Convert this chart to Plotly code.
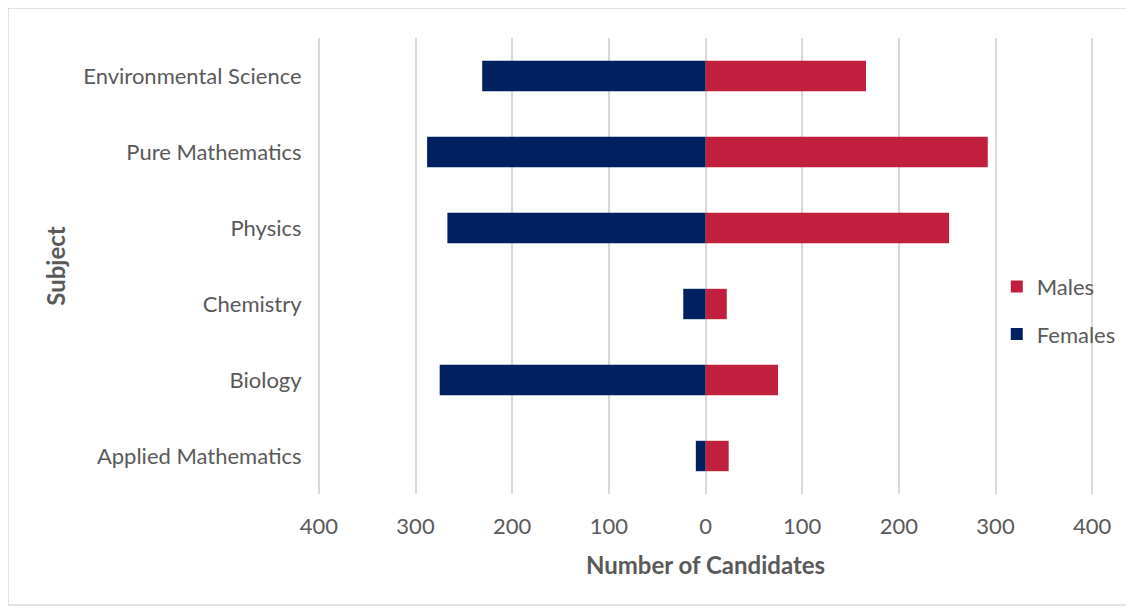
import plotly.graph_objects as go

subjects = ["Applied Mathematics", "Biology", "Chemistry", "Physics", "Pure Mathematics", "Environmental Science"]
males = [24, 75, 22, 252, 292, 166]
females = [10, 275, 23, 267, 288, 231]
tick_vals = [-400, -300, -200, -100, 0, 100, 200, 300, 400]
tick_text = ["400", "300", "200", "100", "0", "100", "200", "300", "400"]

FONT = "Lato, 'Open Sans', sans-serif"
GREY = "#595959"

W, H = 1126, 602
L, R, T, B = 306, 37, 30, 116
PW, PH = W - L - R, H - T - B

fig = go.Figure()
fig.add_trace(go.Bar(
    y=subjects, x=males, name="Males", orientation="h", legendgroup="m",
    marker=dict(color="#C01F3E", line=dict(width=0)),
))
fig.add_trace(go.Bar(
    y=subjects, x=[-v for v in females], name="Females", orientation="h", legendgroup="f",
    marker=dict(color="#002060", line=dict(width=0)),
))

fig.update_layout(
    width=W, height=H,
    barmode="relative", bargap=0.6,
    plot_bgcolor="white", paper_bgcolor="white",
    margin=dict(l=L, r=R, t=T, b=B, autoexpand=False),
    font=dict(family=FONT, size=22, color=GREY),
    showlegend=True,
    legend=dict(x=0.872, y=0.402, xanchor="left", yanchor="middle",
                font=dict(size=22, color=GREY), bgcolor="rgba(0,0,0,0)",
                itemwidth=30, tracegroupgap=16),
    xaxis=dict(
        range=[-405, 405], tickvals=tick_vals, ticktext=tick_text,
        showgrid=True, gridcolor="#d9d9d9", gridwidth=1.5,
        zeroline=True, zerolinecolor="#d9d9d9", zerolinewidth=1.5,
        ticks="outside", ticklen=13, tickcolor="rgba(0,0,0,0)",
        tickfont=dict(size=22, color=GREY),
        title=dict(text="<b>Number of Candidates</b>", font=dict(size=24, color=GREY), standoff=18),
        showline=False,
    ),
    yaxis=dict(
        categoryorder="array", categoryarray=subjects,
        showgrid=False, ticks="outside", ticklen=7, tickcolor="rgba(0,0,0,0)",
        tickfont=dict(size=22, color=GREY),
        title=dict(text="<b>Subject</b>", font=dict(size=24, color=GREY), standoff=10),
        showline=False,
    ),
    shapes=[dict(type="rect", xref="paper", yref="paper",
                 x0=-L / PW, x1=(W - 4 - L) / PW,
                 y0=(PH + T - (H - 5)) / PH, y1=(PH + T) / PH,
                 line=dict(color="#d9d9d9", width=1.5), fillcolor="rgba(0,0,0,0)", layer="below")],
)

fig.write_html("out.html")
